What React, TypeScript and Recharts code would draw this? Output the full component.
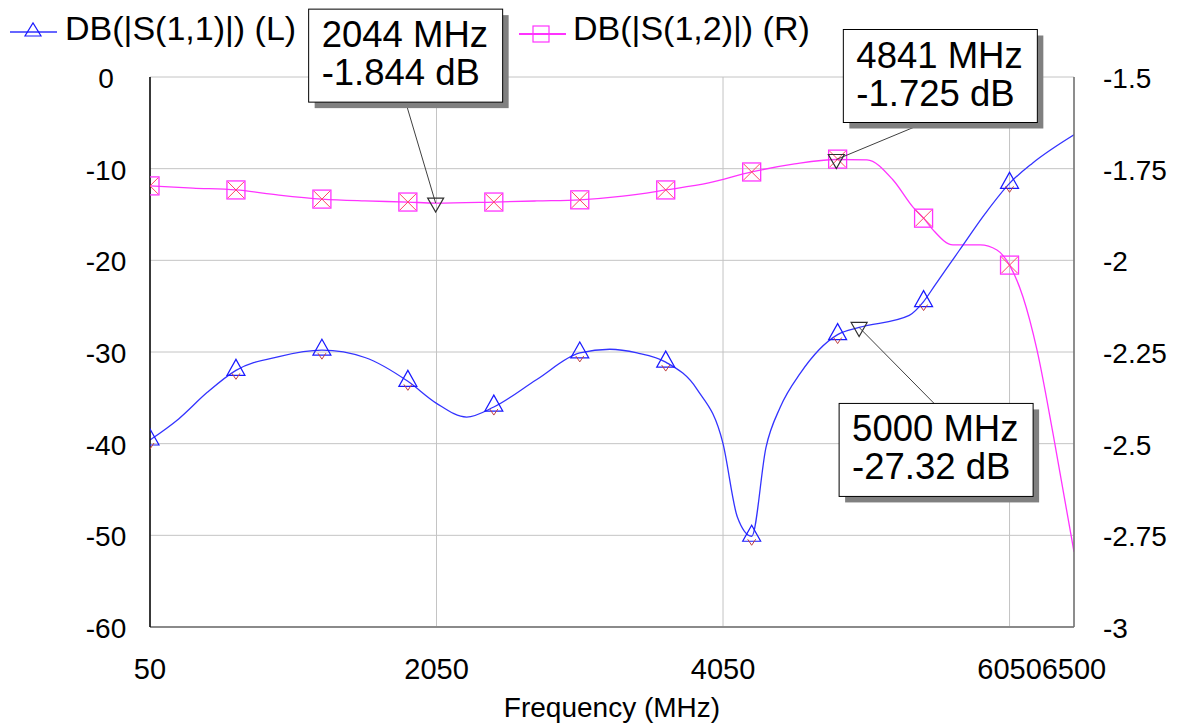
import React from "react";
import {
  CartesianGrid,
  ComposedChart,
  Line,
  ReferenceDot,
  Scatter,
  XAxis,
  YAxis,
} from "recharts";

const FONT = '"Liberation Sans", Arial, sans-serif';

// DB(|S(1,1)|), left axis (dB)
const s11Freq = [
  50, 250, 450, 650, 950, 1250, 1550, 1850, 2050, 2260, 2450, 2750, 3050, 3260,
  3450, 3650, 3870, 4050, 4150, 4250, 4350, 4450, 4590, 4850, 5000, 5350, 5450,
  5530, 5610, 5700, 5880, 6050, 6210, 6500,
];
const s11Db = [
  -39.6, -37.3, -34.4, -32.0, -30.5, -29.8, -30.6, -33.2, -35.6, -37.1, -36.0,
  -33.0, -30.1, -29.7, -30.1, -31.1, -34.1, -40.0, -48.0, -50.1, -40.4, -36.0,
  -32.3, -28.1, -27.32, -26.0, -24.5, -22.7, -20.9, -18.9, -14.9, -11.6, -9.4,
  -6.3,
];

// DB(|S(1,2)|), right axis (dB)
const s12Freq = [
  50, 350, 650, 950, 1250, 1550, 1850, 2044, 2450, 2750, 3050, 3350, 3650, 3950,
  4250, 4550, 4841, 5055, 5237, 5376, 5450, 5516, 5655, 5844, 5962, 6050, 6144,
  6242, 6353, 6500,
];
const s12Db = [
  -1.797, -1.803, -1.808, -1.822, -1.833, -1.838, -1.841, -1.844, -1.841,
  -1.838, -1.835, -1.825, -1.808, -1.789, -1.759, -1.737, -1.725, -1.726,
  -1.781, -1.855, -1.885, -1.917, -1.958, -1.958, -1.972, -2.013, -2.1, -2.245,
  -2.471, -2.795,
];

// symbol positions
const markerFreq = [50, 650, 1250, 1850, 2450, 3050, 3650, 4250, 4850, 5450, 6050];
const s11MarkerDb = [-39.6, -32.0, -29.8, -33.2, -35.9, -30.1, -31.1, -50.1, -28.1, -24.5, -11.6];
const s12MarkerDb = [-1.797, -1.808, -1.833, -1.841, -1.841, -1.835, -1.808, -1.759, -1.724, -1.885, -2.013];

const leftTicks = [0, -10, -20, -30, -40, -50, -60];
const rightTicks = [-1.5, -1.75, -2, -2.25, -2.5, -2.75, -3];
const xTicks = [50, 2050, 4050, 6050, 6500];

// data markers (freq, value, axis)
const annotFreq = [2044, 4841, 5000];
const annotDb = [-1.844, -1.725, -27.32];
const annotAxis = ["right", "right", "left"];
// box offset from the marker point, and where the leader leaves the box
const annotBox = [
  { dx: -127, dy: -194, lx: 97, ly: 93 },
  { dx: 7, dy: -130, lx: 82, ly: 93 },
  { dx: -20, dy: 76, lx: 95, ly: 0 },
];

const s11Data = s11Freq.map((f, i) => ({ f, v: s11Db[i] }));
const s12Data = s12Freq.map((f, i) => ({ f, v: s12Db[i] }));
const s11Marks = markerFreq.map((f, i) => ({ f, v: s11MarkerDb[i] }));
const s12Marks = markerFreq.map((f, i) => ({ f, v: s12MarkerDb[i] }));

function Tri({ cx, cy }: { cx: number; cy: number }) {
  return (
    <g>
      <path
        d={`M${cx - 9},${cy + 5} L${cx + 9},${cy + 5} L${cx},${cy - 11} Z`}
        fill="none"
        stroke="#1a1aff"
        strokeWidth={1.2}
      />
      <path
        d={`M${cx - 4},${cy + 3} L${cx},${cy + 9} L${cx + 4},${cy + 3}`}
        fill="none"
        stroke="#c04040"
        strokeWidth={1}
      />
    </g>
  );
}

function Sq({ cx, cy }: { cx: number; cy: number }) {
  return (
    <g>
      <rect x={cx - 9} y={cy - 9} width={18} height={18} fill="none" stroke="#ff33ff" strokeWidth={1.3} />
      <path
        d={`M${cx - 8},${cy - 8} L${cx + 8},${cy + 8} M${cx + 8},${cy - 8} L${cx - 8},${cy + 8}`}
        stroke="#ff4466"
        strokeWidth={1}
      />
    </g>
  );
}

function Annot({ cx, cy, i }: { cx: number; cy: number; i: number }) {
  const b = annotBox[i];
  const bx = cx + b.dx;
  const by = cy + b.dy;
  const w = 194;
  const h = 93;
  const unit = " dB";
  return (
    <g>
      <line x1={bx + b.lx} y1={by + b.ly} x2={cx} y2={cy} stroke="#404040" strokeWidth={1} />
      <path
        d={`M${cx - 8},${cy - 5} L${cx + 8},${cy - 5} L${cx},${cy + 9} Z`}
        fill="none"
        stroke="#303030"
        strokeWidth={1.2}
      />
      <rect x={bx + 6} y={by + 6} width={w} height={h} fill="#808080" />
      <rect x={bx} y={by} width={w} height={h} fill="#fff" stroke="#000" strokeWidth={1} />
      <text x={bx + 13} y={by + 38} fontFamily={FONT} fontSize={36.5} fill="#000">
        {annotFreq[i]} MHz
      </text>
      <text x={bx + 13} y={by + 76} fontFamily={FONT} fontSize={36.5} fill="#000">
        {annotDb[i]}
        {unit}
      </text>
    </g>
  );
}

const fmtRight = (v: number) => String(v);

export default function App() {
  return (
    <div style={{ position: "absolute", left: 0, top: 0, width: 1180, height: 725, background: "#fff" }}>
      <ComposedChart
        width={1180}
        height={725}
        margin={{ top: 77, right: 0, bottom: 0, left: 0 }}
      >
        <CartesianGrid yAxisId="left" stroke="#c4c4c4" strokeWidth={1} />
        <XAxis
          dataKey="f"
          type="number"
          domain={[50, 6500]}
          ticks={xTicks}
          interval={0}
          allowDataOverflow
          height={98}
          tickLine={false}
          axisLine={{ stroke: "#8a8a8a", strokeWidth: 2 }}
          tick={(p: any) => (
            <text x={p.x} y={p.y} dy={44} textAnchor="middle" fontFamily={FONT} fontSize={29} fill="#000">
              {p.payload.value}
            </text>
          )}
          label={{
            content: (p: any) => {
              const vb = p.viewBox;
              return (
                <text x={vb.x + vb.width / 2} y={vb.y + 90} textAnchor="middle" fontFamily={FONT} fontSize={28} fill="#000">
                  Frequency (MHz)
                </text>
              );
            },
          }}
        />
        <YAxis
          yAxisId="left"
          orientation="left"
          width={150}
          domain={[-60, 0]}
          ticks={leftTicks}
          interval={0}
          tickLine={false}
          axisLine={{ stroke: "#000", strokeWidth: 1.5 }}
          tick={(p: any) => (
            <text x={p.x - 36} y={p.y} dy={11} textAnchor="middle" fontFamily={FONT} fontSize={28} fill="#000">
              {p.payload.value}
            </text>
          )}
        />
        <YAxis
          yAxisId="right"
          orientation="right"
          width={106}
          domain={[-3, -1.5]}
          ticks={rightTicks}
          interval={0}
          tickLine={false}
          axisLine={{ stroke: "#707070", strokeWidth: 1.5 }}
          tick={(p: any) => (
            <text x={p.x + 21} y={p.y} dy={11} textAnchor="start" fontFamily={FONT} fontSize={28} fill="#000">
              {fmtRight(p.payload.value)}
            </text>
          )}
        />
        <Line
          yAxisId="right"
          data={s12Data}
          dataKey="v"
          type="monotone"
          stroke="#ff33ff"
          strokeWidth={1.3}
          dot={false}
          activeDot={false}
          isAnimationActive={false}
        />
        <Line
          yAxisId="left"
          data={s11Data}
          dataKey="v"
          type="monotone"
          stroke="#3333ff"
          strokeWidth={1.3}
          dot={false}
          activeDot={false}
          isAnimationActive={false}
        />
        <Scatter
          yAxisId="right"
          data={s12Marks}
          dataKey="v"
          isAnimationActive={false}
          shape={(p: any) => <Sq cx={p.cx} cy={p.cy} />}
        />
        <Scatter
          yAxisId="left"
          data={s11Marks}
          dataKey="v"
          isAnimationActive={false}
          shape={(p: any) => <Tri cx={p.cx} cy={p.cy} />}
        />
        {annotFreq.map((f, i) => (
          <ReferenceDot
            key={f}
            x={f}
            y={annotDb[i]}
            yAxisId={annotAxis[i]}
            ifOverflow="visible"
            shape={(p: any) => <Annot cx={p.cx} cy={p.cy} i={i} />}
          />
        ))}
      </ComposedChart>
      <svg
        width={1180}
        height={60}
        style={{ position: "absolute", left: 0, top: 0, pointerEvents: "none" }}
      >
        <line x1={10} y1={32} x2={57} y2={32} stroke="#6666ff" strokeWidth={2} />
        <path d="M25,36 L41,36 L33,23 Z" fill="none" stroke="#1a1aff" strokeWidth={1.2} />
        <text x={65} y={40} fontFamily={FONT} fontSize={34} fill="#000">
          DB(|S(1,1)|) (L)
        </text>
        <line x1={519} y1={34} x2={566} y2={34} stroke="#ff33ff" strokeWidth={2} />
        <rect x={533} y={26} width={16} height={16} fill="none" stroke="#ff33ff" strokeWidth={1.2} />
        <text x={573} y={40} fontFamily={FONT} fontSize={34} fill="#000">
          DB(|S(1,2)|) (R)
        </text>
      </svg>
    </div>
  );
}
